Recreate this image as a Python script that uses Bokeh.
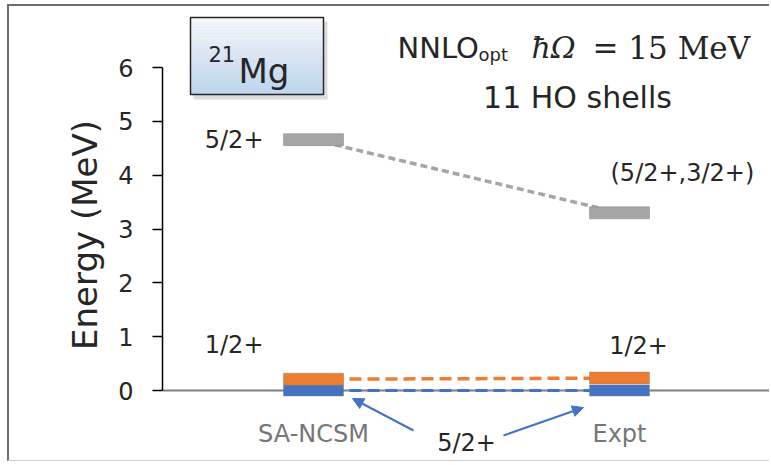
import numpy as np
from bokeh.plotting import figure
from bokeh.models import Range1d, FixedTicker, Span, Arrow, NormalHead
from bokeh.core.properties import value
from bokeh.embed import file_html
from bokeh.resources import INLINE

# ---------------- data ----------------
categories = ["SA-NCSM", "Expt"]
level_spins = ["5/2+", "1/2+", "5/2+"]          # ground, 1st, 2nd excited (SA-NCSM)
expt_spins = ["5/2+", "1/2+", "(5/2+,3/2+)"]    # experimental assignments
ncsm_energy = [0.0, 0.21, 4.66]                 # MeV
expt_energy = [0.0, 0.23, 3.30]                 # MeV
y_ticks = [0, 1, 2, 3, 4, 5, 6]
nucleus_mass = "21"
nucleus_sym = "Mg"
title_line2 = "11 HO shells"

# ---------------- styles ----------------
level_colors = ["#4472C4", "#ED7D31", "#A5A5A5"]
level_heights = [11, 12, 12]          # screen px thickness of each level bar
dash_styles = ["12 6", "12 6", "7 4"]
dash_widths = [3, 3.5, 3.5]
FONT = value("DejaVu Sans")
SERIF = value("DejaVu Serif")
TXT = "#262626"

# screen geometry of the reference (used to place decorations)
FRAME_L, FRAME_R, FRAME_T, FRAME_B = 162, 771, 6, 463
PX0, PX_PER_CAT = 313, 306.0
PY0, PX_PER_MEV = 390, 53.83


def X(px):
    return (px - PX0) / PX_PER_CAT


def Y(py):
    return (PY0 - py) / PX_PER_MEV


cat_x = list(range(len(categories)))

p = figure(width=762, height=457, output_backend="svg", toolbar_location=None,
           x_range=Range1d(X(FRAME_L), X(FRAME_R)),
           y_range=Range1d(Y(FRAME_B), Y(FRAME_T)),
           x_axis_location=None, title=None,
           min_border_left=153, min_border_right=0, min_border_top=0, min_border_bottom=0)
p.styles = {"margin-left": "7px", "margin-top": "4px",
            "border-left": "2px solid #6e6e6e", "border-top": "2px solid #6e6e6e",
            "border-bottom": "1px solid #d0d0d0"}
p.outline_line_color = None
p.xgrid.visible = False
p.ygrid.visible = False
p.background_fill_color = "white"
p.border_fill_color = "white"

ax = p.yaxis[0]
ax.ticker = FixedTicker(ticks=y_ticks)
ax.bounds = (y_ticks[0], y_ticks[-1])
ax.axis_label = "Energy (MeV)"
ax.axis_label_text_font = "DejaVu Sans"
ax.axis_label_text_font_size = "34px"
ax.axis_label_text_font_style = "normal"
ax.axis_label_text_color = TXT
ax.axis_label_standoff = 10
ax.major_label_text_font = "DejaVu Sans"
ax.major_label_text_font_size = "24px"
ax.major_label_text_color = TXT
ax.major_label_standoff = 19
ax.major_tick_in = 0
ax.major_tick_out = 10
ax.major_tick_line_color = "black"
ax.major_tick_line_width = 1.5
ax.minor_tick_line_color = None
ax.axis_line_color = "black"
ax.axis_line_width = 1.5

# horizontal zero line (x axis)
p.add_layout(Span(location=0, dimension="width", line_color="#7f7f7f",
                  line_width=2, level="underlay"))

# dashed connectors between theory and experiment
for i in range(len(ncsm_energy)):
    p.segment(x0=[cat_x[0]], y0=[ncsm_energy[i]], x1=[cat_x[1]], y1=[expt_energy[i]],
              line_color=level_colors[i], line_width=dash_widths[i], line_dash=dash_styles[i])

# level bars: gray first, then blue, then orange on top
for i in [2, 0, 1]:
    p.rect(x=cat_x, y=[ncsm_energy[i], expt_energy[i]],
           width=60, width_units="screen", height=level_heights[i], height_units="screen",
           fill_color=level_colors[i], line_color="#7f7f7f", line_alpha=0.45, line_width=1)

# level labels
p.text(x=[cat_x[0]], y=[ncsm_energy[2]], text=[level_spins[2]], x_offset=-50,
       text_align="right", text_baseline="middle", text_font=FONT,
       text_font_size="24px", text_color=TXT)
p.text(x=[cat_x[0]], y=[ncsm_energy[1]], text=[level_spins[1]], x_offset=-50, y_offset=-34,
       text_align="right", text_baseline="middle", text_font=FONT,
       text_font_size="24px", text_color=TXT)
p.text(x=[cat_x[1]], y=[expt_energy[1]], text=[expt_spins[1]], x_offset=19, y_offset=-32,
       text_align="center", text_baseline="middle", text_font=FONT,
       text_font_size="24px", text_color=TXT)
p.text(x=[cat_x[1]], y=[expt_energy[2]], text=[expt_spins[2]], x_offset=-9, y_offset=-40,
       text_align="left", text_baseline="middle", text_font=FONT,
       text_font_size="24px", text_color=TXT)
# ground-state label between the two columns
p.text(x=[np.mean(cat_x)], y=[ncsm_energy[0]], text=[level_spins[0]], y_offset=52,
       text_align="center", text_baseline="middle", text_font=FONT,
       text_font_size="24px", text_color=TXT)

# category labels
p.text(x=cat_x, y=[0, 0], text=categories, y_offset=43,
       text_align="center", text_baseline="middle", text_font=FONT,
       text_font_size="24px", text_color="#767676")

# arrows to the ground states
blue = level_colors[0]
for (sx, sy, ex, ey) in [(413, 430, 352, 398), (503, 435, 583, 407)]:
    p.add_layout(Arrow(end=NormalHead(size=11, fill_color=blue, line_color=blue),
                       x_start=X(sx), y_start=Y(sy), x_end=X(ex), y_end=Y(ey),
                       line_color=blue, line_width=2))

# nucleus box with gradient
bl, br, bt, bb = 190, 323, 17, 94
p.quad(left=[X(bl + 3)], right=[X(br + 4)], top=[Y(bt + 4)], bottom=[Y(bb + 5)],
       fill_color="#9a9a9a", fill_alpha=0.35, line_color=None)
n = 24
edges = np.linspace(bt, bb, n + 1)
c0 = np.array([246, 248, 251])
c1 = np.array([186, 213, 237])
cols = ["#%02x%02x%02x" % tuple(int(round(v)) for v in c0 + (c1 - c0) * (k + 0.5) / n) for k in range(n)]
p.quad(left=[X(bl)] * n, right=[X(br)] * n, top=[Y(e) for e in edges[:-1]],
       bottom=[Y(e) for e in edges[1:]], fill_color=cols, line_color=None)
p.quad(left=[X(bl)], right=[X(br)], top=[Y(bt)], bottom=[Y(bb)],
       fill_color=None, line_color="#262626", line_width=1.5)
p.text(x=[X(208)], y=[Y(53)], text=[nucleus_mass], text_align="left",
       text_baseline="alphabetic", text_font=FONT, text_font_size="21px", text_color=TXT)
p.text(x=[X(238)], y=[Y(70)], text=[nucleus_sym], text_align="left",
       text_baseline="alphabetic", text_font=FONT, text_font_size="34px", text_color=TXT)

# title
p.text(x=[X(397)], y=[Y(47)], text=["NNLO"], text_align="left", text_baseline="alphabetic",
       text_font=FONT, text_font_size="29px", text_color=TXT)
p.text(x=[X(478)], y=[Y(54)], text=["opt"], text_align="left", text_baseline="alphabetic",
       text_font=FONT, text_font_size="18px", text_color=TXT)
p.text(x=[X(531)], y=[Y(47)], text=["ħΩ"], text_align="left", text_baseline="alphabetic",
       text_font=SERIF, text_font_style="italic", text_font_size="30px", text_color=TXT)
p.text(x=[X(592)], y=[Y(47)], text=["= 15 MeV"], text_align="left", text_baseline="alphabetic",
       text_font=SERIF, text_font_size="31px", text_color=TXT)
p.text(x=[X(577)], y=[Y(97)], text=[title_line2], text_align="center", text_baseline="alphabetic",
       text_font=FONT, text_font_size="30px", text_color=TXT)

open("out.html", "w").write(file_html(p, INLINE))
